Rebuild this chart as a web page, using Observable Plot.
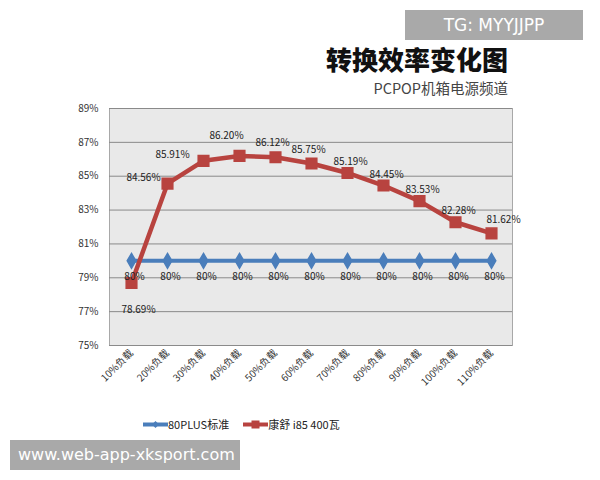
<!DOCTYPE html>
<html><head><meta charset="utf-8">
<script src="https://cdn.jsdelivr.net/npm/d3@7"></script>
<script src="https://cdn.jsdelivr.net/npm/@observablehq/plot@0.6"></script>
<style>
html,body{margin:0;padding:0;background:#fff;}
#wrap{position:relative;width:600px;height:480px;overflow:hidden;font-family:"Noto Sans CJK SC","DejaVu Sans",sans-serif;}
#chart{position:absolute;left:0;top:0;}
.title{position:absolute;right:92px;top:46px;font-size:26px;line-height:26px;font-weight:900;color:#111;}
.sub{position:absolute;right:92px;top:80px;font-size:14.5px;line-height:16px;color:#444;}
.tg{position:absolute;left:405px;top:10px;width:178px;height:30px;background:#a9a9a9;color:#fff;font-family:"DejaVu Sans",sans-serif;font-size:17px;line-height:30px;text-align:center;}
.www{position:absolute;left:10px;top:440px;width:230px;height:30px;background:#a9a9a9;color:#fff;font-family:"DejaVu Sans",sans-serif;font-size:16px;line-height:30px;padding-left:8px;box-sizing:border-box;}
.legend{position:absolute;left:143px;top:418px;font-size:11px;line-height:13px;color:#222;display:flex;align-items:center;gap:14px;}
.legend span{display:flex;align-items:center;}
</style>
</head><body>
<div id="wrap">
<div id="chart"></div>
<div class="title">转换效率变化图</div>
<div class="sub">PCPOP机箱电源频道</div>
<div class="tg">TG: MYYJJPP</div>
<div class="legend" id="legend"></div>
<div class="www">www.web-app-xksport.com</div>
</div>
<script>
const categories = ["10%负载","20%负载","30%负载","40%负载","50%负载","60%负载","70%负载","80%负载","90%负载","100%负载","110%负载"];
const standard80 = [80,80,80,80,80,80,80,80,80,80,80];
const kangshu = [78.69,84.56,85.91,86.20,86.12,85.75,85.19,84.45,83.53,82.28,81.62];
const yTicks = [75,77,79,81,83,85,87,89];
const seriesNames = ["80PLUS标准","康舒 i85 400瓦"];

const blue = "#4a7ebb", red = "#b8433f";
const std = categories.map((c,i)=>({cat:c, v:standard80[i], i}));
const ks = categories.map((c,i)=>({cat:c, v:kangshu[i], i}));
const fmt = d => d.v.toFixed(2) + "%";
const lbl = (filter, dx, dy) => Plot.text(ks, {x:"cat", y:"v", text:fmt, filter, dx, dy, fontSize:10, fill:"#222"});

const chart = Plot.plot({
  width:600, height:480,
  marginTop:108, marginLeft:109, marginRight:88, marginBottom:135,
  style:{fontFamily:"'Noto Sans CJK SC','DejaVu Sans',sans-serif", fontSize:"10px", color:"#333", background:"transparent"},
  x:{type:"point", domain:categories, padding:0.5, label:null, tickRotate:-45, tickSize:0, tickPadding:6},
  y:{domain:[75,89], ticks:yTicks, tickFormat:d=>d+"%", label:null, tickSize:0, tickPadding:11},
  marks:[
    Plot.frame({fill:"#e9e9e9", stroke:"#a8a8a8"}),
    Plot.ruleY(yTicks, {stroke:"#8a8a8a", strokeWidth:1}),
    Plot.line(std, {x:"cat", y:"v", stroke:blue, strokeWidth:4}),
    Plot.dot(std, {x:"cat", y:"v", symbol:"diamond", r:4.5, fill:blue, stroke:blue}),
    Plot.line(ks, {x:"cat", y:"v", stroke:red, strokeWidth:4.5}),
    Plot.dot(ks, {x:"cat", y:"v", symbol:"square", r:6, fill:red, stroke:red}),
    Plot.text(std, {x:"cat", y:"v", text:d=>d.v+"%", dy:16, dx:3, fontSize:10, fill:"#222"}),
    lbl(d=>d.i===0, 7, 27),
    lbl(d=>d.i===1, -24, -6),
    lbl(d=>d.i===2, -31, -6),
    lbl(d=>d.i===3, -13, -20),
    lbl(d=>d.i===4||d.i===5, -3, -14),
    lbl(d=>d.i>=6&&d.i<=9, 3, -11),
    lbl(d=>d.i===10, 12, -14)
  ]
});
document.getElementById("chart").appendChild(chart);

const leg = document.getElementById("legend");
[[seriesNames[0], blue, "diamond"],[seriesNames[1], red, "square"]].forEach(([name,col,shape])=>{
  const s = document.createElement("span");
  const mk = shape==="diamond" ? `<path d="M12.5 3 L16 6.5 L12.5 10 L9 6.5Z" fill="${col}"/>` : `<rect x="8.5" y="2.5" width="8" height="8" fill="${col}"/>`;
  s.innerHTML = `<svg width="25" height="13"><line x1="0" y1="6.5" x2="25" y2="6.5" stroke="${col}" stroke-width="4"/>${mk}</svg>${name}`;
  leg.appendChild(s);
});
</script>
</body></html>
